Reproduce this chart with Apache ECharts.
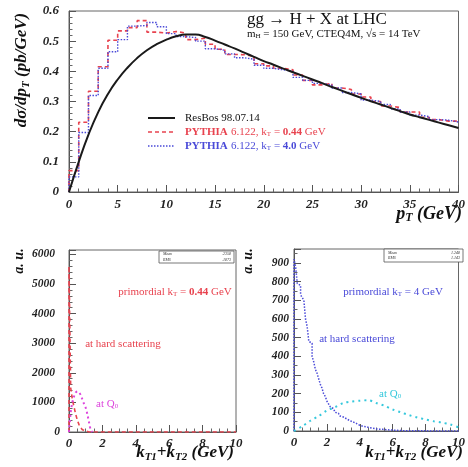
<!DOCTYPE html>
<html><head><meta charset="utf-8">
<script src="https://cdn.jsdelivr.net/npm/echarts/dist/echarts.min.js"></script>
<style>html,body{margin:0;padding:0;background:#fff}#c{width:468px;height:467px}</style>
</head><body><div id="c"></div>
<script>
// ---------- DATA ----------
// Top panel: ResBos curve (smooth), PYTHIA histograms (1 GeV bins)
const resbosPt  = [0,1,2,3,4,5,6,7,8,9,10,11,12,13,14,15,16,17,18,19,20,21,22,23,24,25,26,27,28,29,30,31,32,33,34,35,36,37,38,39,40];
const resbosVal = [0,0.10,0.19,0.265,0.325,0.373,0.412,0.444,0.47,0.49,0.505,0.516,0.522,0.522,0.514,0.502,0.489,0.476,0.462,0.448,0.434,0.422,0.409,0.397,0.385,0.373,0.361,0.348,0.336,0.324,0.312,0.301,0.29,0.279,0.268,0.257,0.248,0.239,0.23,0.221,0.212];
const ptBinLow  = [0,1,2,3,4,5,6,7,8,9,10,11,12,13,14,15,16,17,18,19,20,21,22,23,24,25,26,27,28,29,30,31,32,33,34,35,36,37,38,39];
const pythiaRed = [0.071,0.231,0.334,0.415,0.503,0.534,0.545,0.568,0.53,0.527,0.532,0.527,0.505,0.51,0.49,0.473,0.456,0.455,0.45,0.425,0.418,0.41,0.405,0.388,0.37,0.355,0.36,0.345,0.34,0.325,0.315,0.30,0.285,0.28,0.265,0.265,0.248,0.24,0.235,0.235];
const pythiaBlue= [0.05,0.197,0.32,0.41,0.465,0.505,0.55,0.552,0.562,0.548,0.525,0.515,0.512,0.50,0.475,0.47,0.458,0.445,0.44,0.42,0.41,0.405,0.40,0.38,0.37,0.36,0.355,0.345,0.33,0.325,0.305,0.30,0.29,0.275,0.265,0.255,0.25,0.24,0.238,0.232];
const ptTickLabels = ['0','5','10','15','20','25','30','35','40'];

// Bottom-left: primordial kT = 0.44 GeV (0.1 GeV bins)
const hardRedLeft = [5600,1500,1100,850,600,400,250,150,80,40,15,0];
const q0MagK   = [0,0.1,0.2,0.3,0.4,0.5,0.6,0.7,0.8,0.9,1.0,1.1,1.2,1.3,1.4];
const q0MagVal = [0,650,1000,1200,1330,1370,1340,1250,1100,950,820,600,320,80,0];

// Bottom-right: primordial kT = 4 GeV (0.1 GeV bins)
const hardBlueRight = [920,880,790,780,730,715,700,600,560,480,470,400,370,330,310,280,250,230,200,185,160,145,130,120,110,100,95,85,80,75,70,65,60,55,52,48,42,40,35,30,28,25,22,22,20,18,17,15,14,12,11,10,9,9,8,7,7,6,5,5,4,4,3,3,3,2,2,2,1,1,1,1,0];
const q0CyanK   = [0,0.5,1.0,1.5,2.0,2.5,3.0,3.5,4.0,4.5,5.0,5.5,6.0,6.5,7.0,7.5,8.0,8.5,9.0,9.5,10];
const q0CyanVal = [0,25,55,80,110,128,150,158,162,165,150,135,115,100,85,72,62,52,45,35,20];

// ---------- HELPERS ----------
const SERIF = '"Liberation Serif","DejaVu Serif",serif';
const RED = '#e8434f', BLUE = '#4a4ad8', MAG = '#dd44dd', CYAN = '#35c8dc';
function histFromLows(lows, vals, width){
  const pts = [[lows[0], 0]];
  for (let i = 0; i < vals.length; i++) pts.push([lows[i], vals[i]]);
  pts.push([lows[lows.length-1] + width, vals[vals.length-1]]);
  return pts;
}
function histFromWidth(vals, width, xEnd){
  const pts = [[0,0]];
  for (let i = 0; i < vals.length; i++) pts.push([+(i*width).toFixed(3), vals[i]]);
  pts.push([+(vals.length*width).toFixed(3), vals[vals.length-1]]);
  if (xEnd !== undefined) pts.push([xEnd, 0]);
  return pts;
}
function zip(a,b){ return a.map((x,i)=>[x,b[i]]); }

const lblStyle = {fontFamily: SERIF, fontWeight:'bold', fontStyle:'italic', color:'#222'};
function xAx(grid, max, interval, split, fs, margin, fmt){
  return {type:'value', gridIndex:grid, min:0, max:max, interval:interval,
    axisLine:{show:true, lineStyle:{color:'#555', width:1}},
    axisTick:{show:true, inside:true, length:7, lineStyle:{color:'#555'}},
    minorTick:{show:true, splitNumber:split, length:3.5, lineStyle:{color:'#666'}},
    splitLine:{show:false},
    axisLabel:Object.assign({fontSize:fs, margin:margin, formatter:fmt}, lblStyle)};
}
function yAx(grid, max, interval, split, fs, margin, showMax, fmt, rich){
  return {type:'value', gridIndex:grid, min:0, max:max, interval:interval,
    axisLine:{show:true, lineStyle:{color:'#555', width:1}},
    axisTick:{show:true, inside:true, length:7, lineStyle:{color:'#555'}},
    minorTick:{show:true, splitNumber:split, length:3.5, lineStyle:{color:'#666'}},
    splitLine:{show:false},
    axisLabel:Object.assign({fontSize:fs, margin:margin, showMaxLabel:showMax, formatter:fmt, rich:rich}, lblStyle)};
}

// zrender rich styles (graphic texts use fill)
const ital = (fs)=>({fontFamily:SERIF, fontWeight:'bold', fontStyle:'italic', fontSize:fs, fill:'#111'});
const sub  = (fs)=>({fontFamily:SERIF, fontWeight:'bold', fontStyle:'italic', fontSize:fs, fill:'#111', verticalAlign:'bottom', padding:[Math.round(fs*0.7),0,0,0]});
const rn = (c)=>({fontFamily:SERIF, fontSize:11, fill:c});
const rb = (c)=>({fontFamily:SERIF, fontWeight:'bold', fontSize:11, fill:c});
const rs = (c)=>({fontFamily:SERIF, fontSize:7, fill:c, verticalAlign:'bottom', padding:[5,0,0,0]});

const chart = echarts.init(document.getElementById('c'), null, {renderer:'canvas'});
const option = {
  animation:false,
  backgroundColor:'#fff',
  grid:[
    {left:69, top:11, width:393, height:181, show:true, borderColor:'#666', borderWidth:1},
    {left:69, top:250, width:167, height:182, show:true, borderColor:'#666', borderWidth:1},
    {left:294, top:249, width:169, height:182, show:true, borderColor:'#666', borderWidth:1}
  ],
  xAxis:[
    xAx(0, 40, 5, 5, 13, 6, (v)=>ptTickLabels[Math.round(v/5)]),
    xAx(1, 10, 2, 4, 13, 5),
    xAx(2, 10, 2, 4, 13, 5)
  ],
  yAxis:[
    yAx(0, 0.6, 0.1, 5, 13, 10, true, (v)=> v===0 ? '0' : v.toFixed(1)),
    yAx(1, 6150, 1000, 5, 11.5, 9, false, (v)=> v===0 ? '0' : '{n|'+v+'}',
        {n:{fontFamily:SERIF, fontWeight:'bold', fontStyle:'italic', fontSize:11.5, color:'#222', padding:[0,5,0,0]}}),
    yAx(2, 975, 100, 2, 11.5, 5, false, (v)=>String(v))
  ],
  series:[
    {type:'line', xAxisIndex:0, yAxisIndex:0, data:zip(resbosPt, resbosVal), smooth:0.5, showSymbol:false,
      lineStyle:{color:'#1a1a1a', width:2}, z:3},
    {type:'line', xAxisIndex:0, yAxisIndex:0, data:histFromLows(ptBinLow, pythiaRed, 1), step:'end', showSymbol:false,
      lineStyle:{color:RED, width:1.6, type:[4,3]}, z:2},
    {type:'line', xAxisIndex:0, yAxisIndex:0, data:histFromLows(ptBinLow, pythiaBlue, 1), step:'end', showSymbol:false,
      lineStyle:{color:BLUE, width:1.4, type:[1.5,1.5]}, z:2},
    {type:'line', xAxisIndex:1, yAxisIndex:1, data:histFromWidth(hardRedLeft, 0.1, 10), step:'end', showSymbol:false,
      lineStyle:{color:RED, width:1.6, type:[4,3]}, z:2},
    {type:'line', xAxisIndex:1, yAxisIndex:1, data:zip(q0MagK, q0MagVal), smooth:0.3, showSymbol:false,
      lineStyle:{color:MAG, width:2, type:[2,3]}, z:2},
    {type:'line', xAxisIndex:2, yAxisIndex:2, data:histFromWidth(hardBlueRight, 0.1, 10), step:'end', showSymbol:false,
      lineStyle:{color:BLUE, width:1.5, type:[1.5,1.5]}, z:2},
    {type:'line', xAxisIndex:2, yAxisIndex:2, data:zip(q0CyanK, q0CyanVal), smooth:0.3, showSymbol:false,
      lineStyle:{color:CYAN, width:2, type:[2,4]}, z:2}
  ],
  graphic:[
    // axis titles
    {type:'text', x:22, y:70, rotation:Math.PI/2, style:{text:'{i|dσ/dp}{s|T}{i| (pb/GeV)}', align:'center', verticalAlign:'middle',
      rich:{i:ital(17), s:sub(11)}}},
    {type:'text', x:462, y:214, style:{text:'{i|p}{s|T}{i| (GeV)}', align:'right', verticalAlign:'middle',
      rich:{i:ital(18), s:sub(12)}}},
    {type:'text', x:19, y:261, rotation:Math.PI/2, style:{text:'a. u.', align:'center', verticalAlign:'middle',
      font:'italic bold 14px '+SERIF, fill:'#111'}},
    {type:'text', x:248, y:261, rotation:Math.PI/2, style:{text:'a. u.', align:'center', verticalAlign:'middle',
      font:'italic bold 14px '+SERIF, fill:'#111'}},
    {type:'text', x:234, y:453, style:{text:'{i|k}{s|T1}{i|+k}{s|T2}{i| (GeV)}', align:'right', verticalAlign:'middle',
      rich:{i:ital(17), s:sub(11)}}},
    {type:'text', x:463, y:453, style:{text:'{i|k}{s|T1}{i|+k}{s|T2}{i| (GeV)}', align:'right', verticalAlign:'middle',
      rich:{i:ital(17), s:sub(11)}}},
    // top panel title
    {type:'text', x:247, y:20, style:{text:'gg → H + X at LHC', align:'left', verticalAlign:'middle',
      font:'17px '+SERIF, fill:'#111'}},
    {type:'text', x:247, y:34, style:{text:'{n|m}{h|H}{n| = 150 GeV, CTEQ4M, √s = 14 TeV}', align:'left', verticalAlign:'middle',
      rich:{n:rn('#111'), h:rs('#111')}}},
    // legend
    {type:'line', shape:{x1:148, y1:118, x2:175, y2:118}, style:{stroke:'#1a1a1a', lineWidth:2}},
    {type:'line', shape:{x1:148, y1:132, x2:175, y2:132}, style:{stroke:RED, lineWidth:1.6, lineDash:[4,3]}},
    {type:'line', shape:{x1:148, y1:146, x2:175, y2:146}, style:{stroke:BLUE, lineWidth:1.4, lineDash:[1.5,1.5]}},
    {type:'text', x:185, y:118, style:{text:'ResBos 98.07.14', align:'left', verticalAlign:'middle', font:'11px '+SERIF, fill:'#111'}},
    {type:'text', x:185, y:132, style:{text:'{b|PYTHIA} {n|6.122, k}{s|T}{n| = }{b|0.44}{n| GeV}', align:'left', verticalAlign:'middle',
      rich:{b:rb(RED), n:rn(RED), s:rs(RED)}}},
    {type:'text', x:185, y:146, style:{text:'{b|PYTHIA} {n|6.122, k}{s|T}{n| = }{b|4.0}{n| GeV}', align:'left', verticalAlign:'middle',
      rich:{b:rb(BLUE), n:rn(BLUE), s:rs(BLUE)}}},
    // bottom-left annotations
    {type:'text', x:175, y:292, style:{text:'{n|primordial k}{s|T}{n| = }{b|0.44}{n| GeV}', align:'center', verticalAlign:'middle',
      rich:{b:rb(RED), n:rn(RED), s:rs(RED)}}},
    {type:'text', x:123, y:344, style:{text:'at hard scattering', align:'center', verticalAlign:'middle', font:'11px '+SERIF, fill:RED}},
    {type:'text', x:96, y:404, style:{text:'{n|at Q}{s|0}', align:'left', verticalAlign:'middle',
      rich:{n:rn(MAG), s:rs(MAG)}}},
    // bottom-right annotations
    {type:'text', x:393, y:292, style:{text:'{n|primordial k}{s|T}{n| = 4 GeV}', align:'center', verticalAlign:'middle',
      rich:{n:rn(BLUE), s:rs(BLUE)}}},
    {type:'text', x:357, y:339, style:{text:'at hard scattering', align:'center', verticalAlign:'middle', font:'11px '+SERIF, fill:BLUE}},
    {type:'text', x:379, y:394, style:{text:'{n|at Q}{s|0}', align:'left', verticalAlign:'middle',
      rich:{n:rn(CYAN), s:rs(CYAN)}}},
    // stats boxes
    {type:'rect', shape:{x:159, y:251, width:75, height:12}, style:{fill:'#fff', stroke:'#555', lineWidth:0.8}},
    {type:'text', x:163, y:254, style:{text:'Mean', font:'italic 4px '+SERIF, fill:'#333', verticalAlign:'middle'}},
    {type:'text', x:163, y:259.5, style:{text:'RMS', font:'italic 4px '+SERIF, fill:'#333', verticalAlign:'middle'}},
    {type:'text', x:231, y:254, style:{text:'.2358', font:'italic 4px '+SERIF, fill:'#333', align:'right', verticalAlign:'middle'}},
    {type:'text', x:231, y:259.5, style:{text:'.1873', font:'italic 4px '+SERIF, fill:'#333', align:'right', verticalAlign:'middle'}},
    {type:'rect', shape:{x:384, y:249, width:79, height:13}, style:{fill:'#fff', stroke:'#555', lineWidth:0.8}},
    {type:'text', x:388, y:252.5, style:{text:'Mean', font:'italic 4px '+SERIF, fill:'#333', verticalAlign:'middle'}},
    {type:'text', x:388, y:258, style:{text:'RMS', font:'italic 4px '+SERIF, fill:'#333', verticalAlign:'middle'}},
    {type:'text', x:460, y:252.5, style:{text:'1.248', font:'italic 4px '+SERIF, fill:'#333', align:'right', verticalAlign:'middle'}},
    {type:'text', x:460, y:258, style:{text:'1.143', font:'italic 4px '+SERIF, fill:'#333', align:'right', verticalAlign:'middle'}}
  ]
};
chart.setOption(option);
</script></body></html>
